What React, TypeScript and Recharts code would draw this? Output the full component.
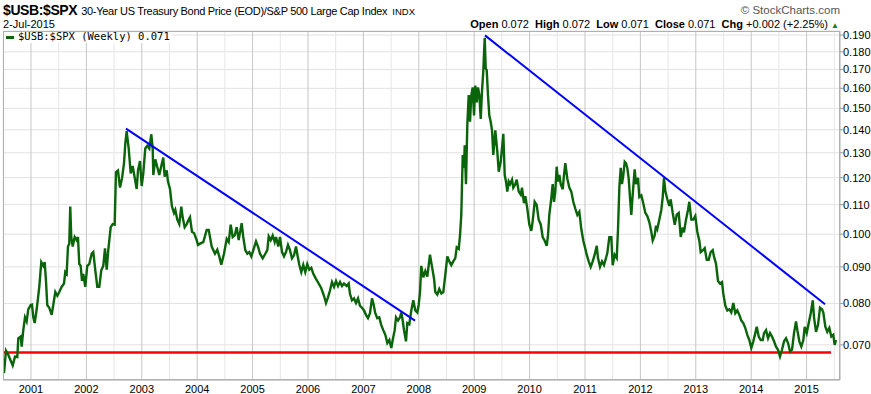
import { LineChart, Line, XAxis, YAxis, CartesianGrid, ReferenceLine } from "recharts";

// weekly close of $USB:$SPX, traced as decimal years
const weekTimes = [
  2000.513, 2000.549, 2000.590, 2000.670, 2000.711, 2000.753, 2000.771, 2000.814, 2000.832, 2000.861,
  2000.892, 2000.922, 2000.951, 2000.995, 2001.018, 2001.042, 2001.067, 2001.103, 2001.150, 2001.186,
  2001.222, 2001.247, 2001.271, 2001.294, 2001.330, 2001.374, 2001.402, 2001.439, 2001.475, 2001.511,
  2001.554, 2001.596, 2001.619, 2001.644, 2001.668, 2001.691, 2001.709, 2001.727, 2001.753, 2001.789,
  2001.825, 2001.848, 2001.872, 2001.897, 2001.921, 2001.944, 2001.980, 2002.016, 2002.052, 2002.096,
  2002.125, 2002.161, 2002.197, 2002.233, 2002.269, 2002.305, 2002.336, 2002.367, 2002.395, 2002.439,
  2002.475, 2002.511, 2002.534, 2002.570, 2002.607, 2002.643, 2002.679, 2002.702, 2002.727, 2002.764,
  2002.800, 2002.836, 2002.859, 2002.908, 2002.932, 2002.968, 2002.998, 2003.027, 2003.063, 2003.099,
  2003.136, 2003.172, 2003.197, 2003.208, 2003.244, 2003.280, 2003.316, 2003.352, 2003.388, 2003.413,
  2003.450, 2003.473, 2003.509, 2003.545, 2003.581, 2003.605, 2003.641, 2003.677, 2003.713, 2003.738,
  2003.774, 2003.811, 2003.847, 2003.870, 2003.906, 2003.942, 2003.991, 2004.015, 2004.051, 2004.110,
  2004.172, 2004.208, 2004.262, 2004.321, 2004.363, 2004.399, 2004.435, 2004.484, 2004.533, 2004.569,
  2004.605, 2004.641, 2004.677, 2004.713, 2004.749, 2004.803, 2004.832, 2004.868, 2004.905, 2004.941,
  2004.977, 2005.013, 2005.062, 2005.098, 2005.134, 2005.183, 2005.230, 2005.266, 2005.291, 2005.327,
  2005.363, 2005.399, 2005.423, 2005.464, 2005.495, 2005.531, 2005.567, 2005.603, 2005.639, 2005.675,
  2005.711, 2005.748, 2005.784, 2005.814, 2005.843, 2005.879, 2005.915, 2005.951, 2005.987, 2006.024,
  2006.060, 2006.096, 2006.144, 2006.193, 2006.240, 2006.289, 2006.325, 2006.361, 2006.397, 2006.433,
  2006.470, 2006.506, 2006.542, 2006.578, 2006.614, 2006.650, 2006.699, 2006.735, 2006.758, 2006.794,
  2006.831, 2006.867, 2006.903, 2006.939, 2006.975, 2007.011, 2007.047, 2007.083, 2007.119, 2007.155,
  2007.179, 2007.215, 2007.251, 2007.287, 2007.323, 2007.359, 2007.396, 2007.432, 2007.468, 2007.504,
  2007.529, 2007.565, 2007.589, 2007.625, 2007.661, 2007.685, 2007.710, 2007.733, 2007.769, 2007.793,
  2007.829, 2007.865, 2007.901, 2007.937, 2007.973, 2007.998, 2008.022, 2008.045, 2008.082, 2008.118,
  2008.154, 2008.202, 2008.239, 2008.275, 2008.298, 2008.334, 2008.370, 2008.407, 2008.443, 2008.479,
  2008.515, 2008.551, 2008.587, 2008.623, 2008.659, 2008.685, 2008.721, 2008.744, 2008.767, 2008.793,
  2008.816, 2008.829, 2008.852, 2008.876, 2008.901, 2008.925, 2008.948, 2008.973, 2008.997, 2009.020,
  2009.046, 2009.069, 2009.093, 2009.118, 2009.141, 2009.165, 2009.177, 2009.190, 2009.208, 2009.226,
  2009.249, 2009.273, 2009.298, 2009.322, 2009.345, 2009.381, 2009.417, 2009.443, 2009.479, 2009.526,
  2009.551, 2009.574, 2009.598, 2009.623, 2009.647, 2009.683, 2009.706, 2009.742, 2009.768, 2009.804,
  2009.840, 2009.863, 2009.899, 2009.923, 2009.959, 2009.995, 2010.031, 2010.056, 2010.092, 2010.128,
  2010.164, 2010.201, 2010.237, 2010.273, 2010.309, 2010.332, 2010.356, 2010.392, 2010.417, 2010.441,
  2010.464, 2010.489, 2010.513, 2010.537, 2010.562, 2010.598, 2010.621, 2010.645, 2010.681, 2010.717,
  2010.753, 2010.789, 2010.825, 2010.862, 2010.898, 2010.934, 2010.970, 2011.006, 2011.031, 2011.067,
  2011.103, 2011.139, 2011.175, 2011.212, 2011.235, 2011.271, 2011.307, 2011.343, 2011.379, 2011.403,
  2011.439, 2011.475, 2011.500, 2011.536, 2011.573, 2011.596, 2011.620, 2011.645, 2011.668, 2011.692,
  2011.717, 2011.741, 2011.764, 2011.789, 2011.813, 2011.836, 2011.861, 2011.897, 2011.921, 2011.957,
  2011.981, 2012.017, 2012.053, 2012.089, 2012.125, 2012.161, 2012.197, 2012.222, 2012.258, 2012.282,
  2012.305, 2012.341, 2012.378, 2012.403, 2012.426, 2012.450, 2012.486, 2012.522, 2012.547, 2012.583,
  2012.620, 2012.656, 2012.692, 2012.728, 2012.764, 2012.787, 2012.823, 2012.860, 2012.883, 2012.919,
  2012.955, 2012.991, 2013.027, 2013.063, 2013.089, 2013.125, 2013.161, 2013.197, 2013.233, 2013.269,
  2013.305, 2013.329, 2013.365, 2013.401, 2013.437, 2013.473, 2013.497, 2013.533, 2013.569, 2013.605,
  2013.641, 2013.677, 2013.713, 2013.749, 2013.786, 2013.822, 2013.858, 2013.894, 2013.930, 2013.966,
  2014.002, 2014.038, 2014.074, 2014.100, 2014.136, 2014.172, 2014.208, 2014.232, 2014.268, 2014.304,
  2014.340, 2014.376, 2014.412, 2014.448, 2014.484, 2014.520, 2014.556, 2014.593, 2014.629, 2014.665,
  2014.701, 2014.737, 2014.773, 2014.809, 2014.833, 2014.869, 2014.905, 2014.941, 2014.966, 2015.002,
  2015.039, 2015.075, 2015.111, 2015.134, 2015.170, 2015.206, 2015.242, 2015.278, 2015.302, 2015.338,
  2015.374, 2015.410, 2015.446, 2015.482, 2015.507, 2015.531,
];

const ratioValues = [
  0.0639, 0.0687, 0.0678, 0.0655, 0.0674, 0.0673, 0.0715, 0.0719, 0.0696, 0.0734,
  0.0765, 0.0755, 0.0785, 0.0796, 0.0797, 0.0765, 0.0751, 0.0785, 0.0844, 0.0914,
  0.0903, 0.0914, 0.0860, 0.0796, 0.0789, 0.0771, 0.0796, 0.0830, 0.0820, 0.0830,
  0.0844, 0.0853, 0.0885, 0.0880, 0.0961, 0.0970, 0.1093, 0.0991, 0.0961, 0.0991,
  0.0981, 0.0991, 0.0908, 0.0903, 0.0860, 0.0880, 0.0844, 0.0903, 0.0908, 0.0939,
  0.0944, 0.0890, 0.0844, 0.0844, 0.0890, 0.0903, 0.0955, 0.0892, 0.0950, 0.1023,
  0.1033, 0.1031, 0.1222, 0.1228, 0.1162, 0.1197, 0.1256, 0.1338, 0.1394, 0.1318,
  0.1216, 0.1246, 0.1216, 0.1157, 0.1228, 0.1266, 0.1168, 0.1216, 0.1318, 0.1330,
  0.1318, 0.1380, 0.1318, 0.1210, 0.1273, 0.1242, 0.1210, 0.1246, 0.1280, 0.1204,
  0.1228, 0.1185, 0.1157, 0.1093, 0.1071, 0.1082, 0.1048, 0.1033, 0.1093, 0.1056,
  0.1023, 0.1033, 0.1048, 0.1056, 0.1008, 0.1004, 0.0981, 0.0966, 0.0970, 0.0975,
  0.1014, 0.1014, 0.0961, 0.0939, 0.0951, 0.0931, 0.0906, 0.0939, 0.0985, 0.0975,
  0.1031, 0.0991, 0.0996, 0.1023, 0.0981, 0.1036, 0.0991, 0.0950, 0.0939, 0.0944,
  0.0931, 0.0950, 0.0977, 0.0961, 0.0939, 0.0925, 0.0939, 0.0950, 0.0993, 0.0981,
  0.0996, 0.0975, 0.0991, 0.0961, 0.0991, 0.0944, 0.0931, 0.0944, 0.0966, 0.0950,
  0.0925, 0.0934, 0.0961, 0.0931, 0.0906, 0.0885, 0.0906, 0.0885, 0.0908, 0.0892,
  0.0897, 0.0880, 0.0866, 0.0853, 0.0840, 0.0820, 0.0801, 0.0816, 0.0834, 0.0857,
  0.0844, 0.0860, 0.0846, 0.0857, 0.0846, 0.0853, 0.0846, 0.0853, 0.0825, 0.0808,
  0.0813, 0.0801, 0.0813, 0.0794, 0.0789, 0.0782, 0.0771, 0.0763, 0.0775, 0.0813,
  0.0801, 0.0775, 0.0763, 0.0765, 0.0746, 0.0734, 0.0723, 0.0704, 0.0711, 0.0693,
  0.0711, 0.0734, 0.0765, 0.0757, 0.0765, 0.0777, 0.0757, 0.0734, 0.0708, 0.0751,
  0.0748, 0.0782, 0.0808, 0.0782, 0.0777, 0.0796, 0.0830, 0.0903, 0.0870, 0.0888,
  0.0872, 0.0936, 0.0900, 0.0867, 0.0830, 0.0823, 0.0838, 0.0826, 0.0830, 0.0878,
  0.0931, 0.0916, 0.0905, 0.0916, 0.0926, 0.0959, 0.0954, 0.0995, 0.1064, 0.1291,
  0.1238, 0.1332, 0.1175, 0.1424, 0.1566, 0.1437, 0.1566, 0.1605, 0.1466, 0.1614,
  0.1529, 0.1605, 0.1566, 0.1450, 0.1585, 0.1694, 0.1788, 0.1883, 0.1706, 0.1697,
  0.1566, 0.1466, 0.1437, 0.1397, 0.1291, 0.1397, 0.1306, 0.1223, 0.1263, 0.1382,
  0.1210, 0.1185, 0.1147, 0.1185, 0.1175, 0.1192, 0.1162, 0.1175, 0.1192, 0.1147,
  0.1136, 0.1162, 0.1105, 0.1130, 0.1086, 0.1032, 0.1011, 0.1043, 0.1110, 0.1099,
  0.1048, 0.1032, 0.0990, 0.0979, 0.0963, 0.0995, 0.1064, 0.1123, 0.1175, 0.1110,
  0.1147, 0.1243, 0.1185, 0.1210, 0.1175, 0.1156, 0.1210, 0.1257, 0.1196, 0.1162,
  0.1147, 0.1110, 0.1086, 0.1064, 0.1075, 0.1016, 0.0979, 0.0954, 0.0936, 0.0916,
  0.0900, 0.0916, 0.0936, 0.0963, 0.0926, 0.0900, 0.0916, 0.0905, 0.0926, 0.0941,
  0.0990, 0.0990, 0.0905, 0.0936, 0.0926, 0.1016, 0.1162, 0.1238, 0.1175, 0.1210,
  0.1263, 0.1257, 0.1238, 0.1196, 0.1123, 0.1064, 0.1136, 0.1232, 0.1175, 0.1199,
  0.1127, 0.1133, 0.1104, 0.1071, 0.1060, 0.1040, 0.1008, 0.0980, 0.0996, 0.1028,
  0.1017, 0.1048, 0.1082, 0.1127, 0.1199, 0.1149, 0.1119, 0.1095, 0.1119, 0.1071,
  0.1031, 0.1065, 0.1071, 0.0991, 0.1022, 0.1006, 0.1048, 0.1082, 0.1110, 0.1048,
  0.1048, 0.1060, 0.1008, 0.0980, 0.0944, 0.0949, 0.0956, 0.0921, 0.0921, 0.0944,
  0.0950, 0.0930, 0.0909, 0.0860, 0.0853, 0.0857, 0.0825, 0.0794, 0.0782, 0.0785,
  0.0777, 0.0801, 0.0775, 0.0782, 0.0771, 0.0757, 0.0751, 0.0739, 0.0723, 0.0711,
  0.0693, 0.0708, 0.0727, 0.0742, 0.0719, 0.0711, 0.0711, 0.0727, 0.0734, 0.0715,
  0.0727, 0.0719, 0.0708, 0.0696, 0.0689, 0.0674, 0.0689, 0.0708, 0.0715, 0.0704,
  0.0685, 0.0689, 0.0727, 0.0755, 0.0734, 0.0708, 0.0696, 0.0711, 0.0742, 0.0727,
  0.0751, 0.0775, 0.0808, 0.0765, 0.0730, 0.0746, 0.0789, 0.0785, 0.0777, 0.0742,
  0.0730, 0.0739, 0.0719, 0.0723, 0.0700, 0.0711,
];

const yearTicks = [2001, 2002, 2003, 2004, 2005, 2006, 2007, 2008, 2009, 2010, 2011, 2012, 2013, 2014, 2015];
const halfYears = [2000.5, 2001.5, 2002.5, 2003.5, 2004.5, 2005.5, 2006.5, 2007.5, 2008.5, 2009.5, 2010.5, 2011.5, 2012.5, 2013.5, 2014.5, 2015.5];
const priceTicks = [0.07, 0.08, 0.09, 0.1, 0.11, 0.12, 0.13, 0.14, 0.15, 0.16, 0.17, 0.18, 0.19];

// hand-drawn annotation lines
const trendOneTimes = [2002.715, 2007.932];
const trendOneValues = [0.1405, 0.0757];
const trendTwoTimes = [2009.195, 2015.333];
const trendTwoValues = [0.1898, 0.0798];
const supportTimes = [2000.495, 2015.441];
const supportValues = [0.0683, 0.0683];

const toPoints = (ts: number[], vs: number[]) => ts.map((t, i) => ({ t, v: vs[i] }));

const priceData = toPoints(weekTimes, ratioValues);
const trendOne = toPoints(trendOneTimes, trendOneValues);
const trendTwo = toPoints(trendTwoTimes, trendTwoValues);
const support = toPoints(supportTimes, supportValues);

const sans = "'Liberation Sans', Arial, sans-serif";

export default function App() {
  return (
    <div style={{ position: "absolute", left: 0, top: 0, width: 871, height: 394, background: "#fff", fontFamily: sans }}>
      <div style={{ position: "absolute", left: 3, top: 2, whiteSpace: "nowrap", lineHeight: "16px" }}>
        <span style={{ fontSize: 14, fontWeight: "bold", letterSpacing: -0.4 }}>$USB:$SPX</span>
        <span style={{ fontSize: 11, marginLeft: 4, letterSpacing: -0.3 }}>30-Year US Treasury Bond Price (EOD)/S&amp;P 500 Large Cap Index</span>
        <span style={{ fontSize: 9.5, marginLeft: 5 }}>INDX</span>
      </div>
      <div style={{ position: "absolute", left: 3, top: 18, fontSize: 11, whiteSpace: "nowrap" }}>2-Jul-2015</div>
      <div style={{ position: "absolute", right: 31, top: 4, fontSize: 11.5, color: "#555", whiteSpace: "nowrap" }}>
        © StockCharts.com
      </div>
      <div style={{ position: "absolute", right: 32, top: 18, fontSize: 11, whiteSpace: "nowrap" }}>
        <b>Open</b> 0.072&nbsp; <b>High</b> 0.072&nbsp; <b>Low</b> 0.071&nbsp; <b>Close</b> 0.071&nbsp; <b>Chg</b> +0.002 (+2.25%){" "}
        <span style={{ color: "#1a7a1a", fontSize: 8 }}>▲</span>
      </div>

      <div style={{ position: "absolute", left: 0, top: 0 }}>
        <LineChart width={871} height={394} margin={{ top: 31, right: 0, left: 3, bottom: 0 }}>
          <CartesianGrid vertical={false} stroke="#e2e2e2" strokeWidth={1} />
          {halfYears.map((h) => (
            <ReferenceLine key={"h" + h} x={h} stroke="#e6e6e6" strokeWidth={1} />
          ))}
          {yearTicks.map((y) => (
            <ReferenceLine key={"y" + y} x={y} stroke="#c6c6c6" strokeWidth={1} />
          ))}
          <XAxis
            type="number"
            dataKey="t"
            domain={[2000.495, 2015.603]}
            ticks={yearTicks}
            interval={0}
            allowDataOverflow
            height={14}
            tickLine={false}
            tickSize={4}
            tickMargin={1}
            axisLine={{ stroke: "#b0b0b0" }}
            tick={{ fontSize: 11, fill: "#000", fontFamily: sans }}
          />
          <YAxis
            type="number"
            scale="log"
            orientation="right"
            domain={[0.0625, 0.1925]}
            ticks={priceTicks}
            interval={0}
            allowDataOverflow
            width={31}
            tickSize={3}
            tickMargin={0}
            tickLine={{ stroke: "#999" }}
            axisLine={{ stroke: "#b0b0b0" }}
            tickFormatter={(v: number) => v.toFixed(3)}
            tick={{ fontSize: 11, fill: "#000", fontFamily: sans, textAnchor: "start" }}
          />
          <Line data={support} dataKey="v" stroke="#ff0000" strokeWidth={2.5} dot={false} isAnimationActive={false} />
          <Line data={priceData} dataKey="v" stroke="#0a640a" strokeWidth={2.4} dot={false} isAnimationActive={false} />
          <Line data={trendOne} dataKey="v" stroke="#0000ff" strokeWidth={2} dot={false} isAnimationActive={false} />
          <Line data={trendTwo} dataKey="v" stroke="#0000ff" strokeWidth={2} dot={false} isAnimationActive={false} />
        </LineChart>
      </div>

      <div style={{ position: "absolute", left: 3, top: 31, width: 837, height: 349, border: "1px solid #b0b0b0", boxSizing: "border-box", pointerEvents: "none" }} />
      <div style={{ position: "absolute", left: 4, top: 32, width: 168, height: 11, background: "#fff", whiteSpace: "nowrap" }}>
        <span style={{ position: "absolute", left: 2, top: 4, width: 8, height: 3, background: "#0a640a" }} />
        <span style={{ position: "absolute", left: 14, top: -2, fontFamily: "'DejaVu Sans Mono', monospace", fontSize: 10.5 }}>
          $USB:$SPX (Weekly) 0.071
        </span>
      </div>
    </div>
  );
}
